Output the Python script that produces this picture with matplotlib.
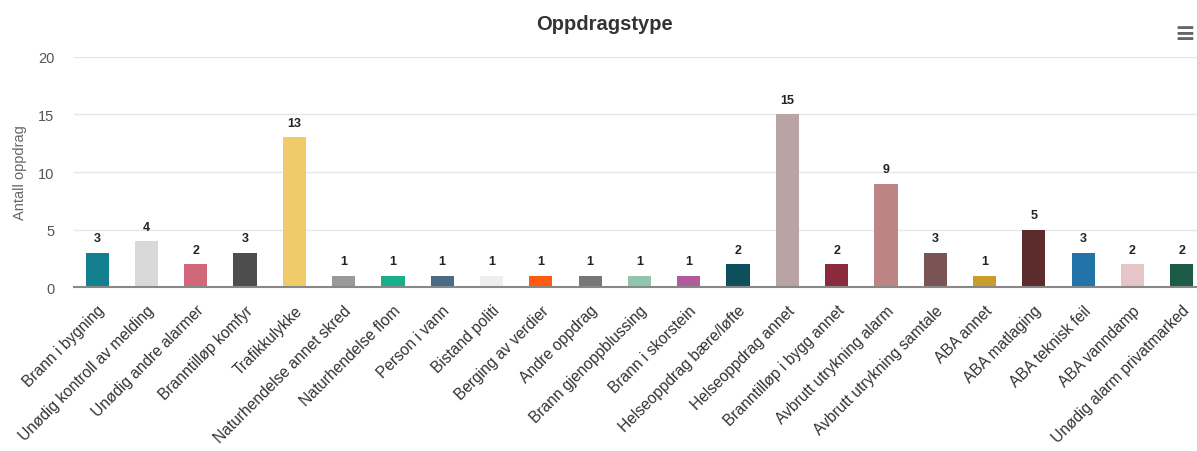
import matplotlib
matplotlib.use("Agg")
import matplotlib.pyplot as plt

categories = ["Brann i bygning", "Unødig kontroll av melding", "Unødig andre alarmer",
              "Branntilløp komfyr", "Trafikkulykke", "Naturhendelse annet skred",
              "Naturhendelse flom", "Person i vann", "Bistand politi", "Berging av verdier",
              "Andre oppdrag", "Brann gjenoppblussing", "Brann i skorstein",
              "Helseoppdrag bære/løfte", "Helseoppdrag annet", "Branntilløp i bygg annet",
              "Avbrutt utrykning alarm", "Avbrutt utrykning samtale", "ABA annet",
              "ABA matlaging", "ABA teknisk feil", "ABA vanndamp", "Unødig alarm privatmarked"]
values = [3, 4, 2, 3, 13, 1, 1, 1, 1, 1, 1, 1, 1, 2, 15, 2, 9, 3, 1, 5, 3, 2, 2]
colors = ["#14808f", "#d9d9d9", "#d1687a", "#4d4d4d", "#f0cb69", "#999999", "#1aaf8b",
          "#4a6a85", "#eeeeee", "#ff5a10", "#777777", "#92c5ad", "#b35a9e", "#0d4f5a",
          "#b9a3a3", "#8a2a3c", "#bc8584", "#7a5454", "#c99d2a", "#5c2b2b", "#2274a8",
          "#e6c5c7", "#1e5a48"]
yticks = [0, 5, 10, 15, 20]

plt.rcParams['font.family'] = ['Liberation Sans', 'DejaVu Sans']

fig = plt.figure(figsize=(11.97, 4.52), dpi=100)
ax = fig.add_axes([0.0618, 0.3628, 0.9382, 0.5089])

x = list(range(len(categories)))
ax.bar(x, values, width=0.47, color=colors, zorder=3)
for xi, v in zip(x, values):
    ax.annotate(str(v), (xi, v), xytext=(0, 6), textcoords='offset points',
                ha='center', va='bottom', fontsize=9, fontweight='bold', color='#222222')

ax.set_ylim(0, 20)
ax.set_xlim(-0.47, 22.31)
ax.set_yticks(yticks)
ax.set_yticklabels([str(t) for t in yticks], fontsize=10.5, color='#555555')
ax.grid(axis='y', color='#e6e6e6', linewidth=1, zorder=0)
ax.set_xticks(x)
ax.set_xticklabels(categories, rotation=45, ha='right', rotation_mode='anchor',
                   fontsize=11.2, color='#333333')
ax.tick_params(axis='x', length=0, pad=11)
ax.tick_params(axis='y', length=0, pad=14)
for s in ['top', 'right', 'left']:
    ax.spines[s].set_visible(False)
ax.spines['bottom'].set_color('#888888')
ax.spines['bottom'].set_linewidth(1.5)
ax.spines['bottom'].set_zorder(4)

ax.set_ylabel("Antall oppdrag", fontsize=10.5, color='#666666', labelpad=8)

fig.text(0.505, 0.945, "Oppdragstype", ha='center', va='center', fontsize=14.5,
         fontweight='bold', color='#333333')
fig.text(0.99, 0.925, "≡", ha='center', va='center', fontsize=18, color='#666666',
         family='DejaVu Sans', fontweight='bold')

fig.savefig("out.png", dpi=100)
